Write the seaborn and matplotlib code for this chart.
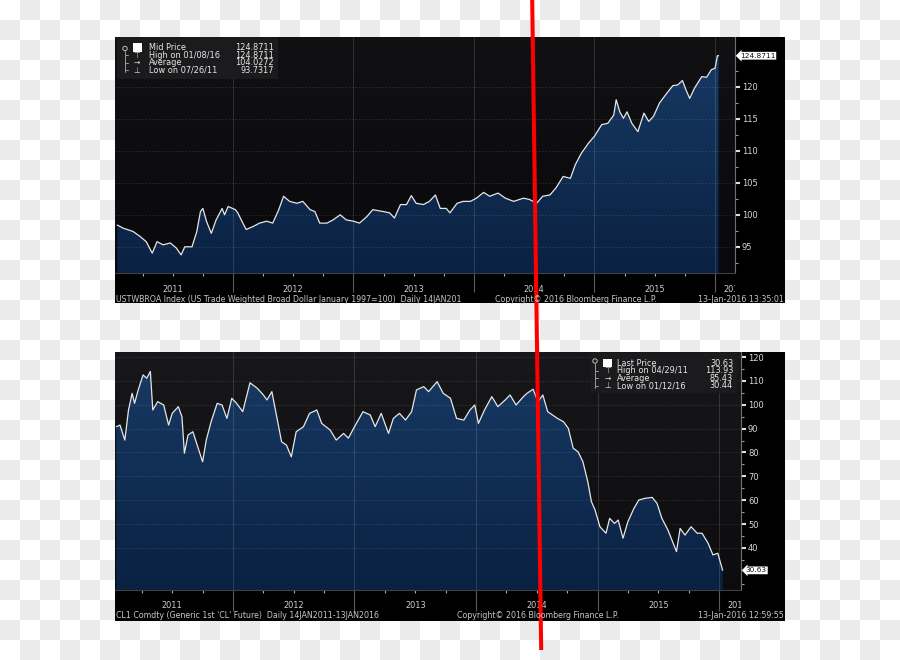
import numpy as np
import pandas as pd
import matplotlib
matplotlib.use('Agg')
import matplotlib.pyplot as plt
import seaborn as sns
from matplotlib.colors import ListedColormap, LinearSegmentedColormap
from matplotlib.patches import Rectangle, Circle
from matplotlib.transforms import Bbox, TransformedBbox, blended_transform_factory, offset_copy

# ---------------- data ----------------
usd_dates = [2011.04, 2011.09, 2011.17, 2011.23, 2011.28, 2011.33, 2011.37, 2011.42, 2011.48, 2011.53,
             2011.57, 2011.60, 2011.66, 2011.70, 2011.73, 2011.75, 2011.78, 2011.82, 2011.86, 2011.91,
             2011.93, 2011.96, 2012.02, 2012.04, 2012.09, 2012.11, 2012.17, 2012.22, 2012.28, 2012.33,
             2012.38, 2012.42, 2012.47, 2012.53, 2012.58, 2012.64, 2012.68, 2012.72, 2012.78, 2012.83,
             2012.89, 2012.94, 2013.00, 2013.05, 2013.11, 2013.16, 2013.25, 2013.30, 2013.34, 2013.39,
             2013.44, 2013.48, 2013.52, 2013.58, 2013.63, 2013.68, 2013.72, 2013.77, 2013.80, 2013.86,
             2013.91, 2013.97, 2014.02, 2014.08, 2014.13, 2014.20, 2014.26, 2014.33, 2014.41, 2014.46,
             2014.52, 2014.57, 2014.63, 2014.68, 2014.74, 2014.80, 2014.84, 2014.89, 2014.95, 2015.00,
             2015.06, 2015.11, 2015.16, 2015.18, 2015.21, 2015.24, 2015.27, 2015.31, 2015.36, 2015.41,
             2015.45, 2015.49, 2015.54, 2015.60, 2015.65, 2015.69, 2015.73, 2015.76, 2015.79, 2015.83,
             2015.89, 2015.93, 2015.97, 2016.00, 2016.02, 2016.03]
usd_values = [98.4, 97.9, 97.4, 96.6, 95.8, 94.0, 95.8, 95.3, 95.6, 94.8,
              93.73, 95.0, 95.0, 97.4, 100.5, 101.0, 99.0, 97.1, 99.2, 101.0,
              100.0, 101.3, 100.8, 100.3, 98.4, 97.7, 98.2, 98.7, 99.0, 98.7,
              100.8, 102.9, 102.1, 101.8, 102.1, 100.8, 100.5, 98.7, 98.7, 99.2,
              100.0, 99.2, 99.0, 98.7, 99.7, 100.8, 100.5, 100.3, 99.5, 101.6,
              101.6, 103.0, 101.8, 101.6, 102.1, 103.1, 101.0, 101.0, 100.3, 101.8,
              102.1, 102.1, 102.6, 103.5, 102.9, 103.4, 102.6, 102.1, 102.6, 102.4,
              101.8, 102.9, 103.1, 104.2, 106.0, 105.7, 107.8, 109.6, 111.2, 112.3,
              114.1, 114.3, 115.6, 118.0, 116.1, 115.1, 116.1, 114.3, 113.0, 115.9,
              114.6, 115.4, 117.5, 119.0, 120.2, 120.3, 121.0, 119.5, 118.2, 119.8,
              121.6, 121.5, 122.7, 122.9, 124.87, 124.87]

oil_dates = [2011.04, 2011.07, 2011.11, 2011.14, 2011.17, 2011.19, 2011.22, 2011.26, 2011.29, 2011.32,
             2011.34, 2011.38, 2011.43, 2011.47, 2011.50, 2011.55, 2011.58, 2011.60, 2011.63, 2011.67,
             2011.71, 2011.75, 2011.78, 2011.82, 2011.87, 2011.91, 2011.95, 2011.99, 2012.03, 2012.08,
             2012.14, 2012.20, 2012.25, 2012.28, 2012.32, 2012.36, 2012.40, 2012.44, 2012.48, 2012.52,
             2012.58, 2012.63, 2012.69, 2012.73, 2012.80, 2012.85, 2012.91, 2012.95, 2013.00, 2013.07,
             2013.13, 2013.17, 2013.22, 2013.28, 2013.32, 2013.37, 2013.42, 2013.47, 2013.51, 2013.57,
             2013.61, 2013.68, 2013.73, 2013.79, 2013.84, 2013.90, 2013.95, 2013.99, 2014.02, 2014.07,
             2014.13, 2014.18, 2014.24, 2014.28, 2014.33, 2014.39, 2014.42, 2014.47, 2014.51, 2014.55,
             2014.59, 2014.63, 2014.67, 2014.72, 2014.76, 2014.80, 2014.84, 2014.88, 2014.92, 2014.95,
             2014.98, 2015.02, 2015.07, 2015.10, 2015.14, 2015.17, 2015.21, 2015.25, 2015.30, 2015.34,
             2015.39, 2015.45, 2015.49, 2015.53, 2015.58, 2015.65, 2015.68, 2015.72, 2015.77, 2015.82,
             2015.86, 2015.91, 2015.95, 2015.99, 2016.03]
oil_values = [90.8, 91.5, 85.2, 97.8, 104.8, 100.6, 106.2, 112.5, 111.1, 113.93,
              97.8, 101.3, 99.9, 91.5, 96.4, 99.2, 95.0, 79.7, 87.3, 88.7,
              82.4, 76.1, 85.2, 92.9, 100.6, 99.9, 94.3, 102.7, 100.6, 97.1,
              109.2, 106.9, 104.1, 102.0, 105.5, 95.0, 84.5, 83.1, 78.2, 88.7,
              90.8, 96.4, 97.8, 92.2, 89.4, 85.2, 88.0, 86.0, 90.8, 97.1,
              95.7, 90.8, 96.4, 88.0, 94.3, 96.4, 93.6, 97.1, 106.2, 107.6,
              105.5, 109.7, 104.8, 102.7, 94.3, 93.6, 97.8, 99.9, 92.2, 97.8,
              103.4, 99.2, 102.0, 104.1, 99.9, 103.4, 104.8, 106.5, 101.3, 104.1,
              97.1, 95.7, 94.3, 92.9, 90.1, 81.8, 80.3, 76.1, 67.8, 59.4,
              55.9, 48.9, 46.2, 52.4, 50.3, 51.7, 44.1, 51.0, 56.6, 60.1,
              60.8, 61.2, 58.7, 52.4, 47.5, 38.5, 48.2, 45.4, 48.9, 46.2,
              46.2, 42.0, 37.1, 37.8, 30.63]

usd_yticks = [95, 100, 105, 110, 115, 120]
oil_yticks = [40, 50, 60, 70, 80, 90, 100, 110, 120]
year_labels = ['2011', '2012', '2013', '2014', '2015', '2016']

usd_legend_labels = ['Mid Price', 'High on 01/08/16', 'Average', 'Low on 07/26/11']
usd_legend_values = ['124.8711', '124.8711', '104.0272', '93.7317']
oil_legend_labels = ['Last Price', 'High on 04/29/11', 'Average', 'Low on 01/12/16']
oil_legend_values = ['30.63', '113.93', '85.43', '30.44']

usd_footer = ["USTWBROA Index (US Trade Weighted Broad Dollar January 1997=100)  Daily 14JAN201",
              "Copyright\u00a9 2016 Bloomberg Finance L.P.", "13-Jan-2016 13:35:01"]
oil_footer = ["CL1 Comdty (Generic 1st 'CL' Future)  Daily 14JAN2011-13JAN2016",
              "Copyright\u00a9 2016 Bloomberg Finance L.P.", "13-Jan-2016 12:59:55"]

# ---------------- style ----------------
sns.set_theme(style='dark')
plt.rcParams['font.family'] = ['DejaVu Sans']

W, H = 900, 660
fig = plt.figure(figsize=(W / 100, H / 100), dpi=100)
fig.patch.set_facecolor('white')

# checkerboard backdrop
bg = fig.add_axes([0, 0, 1, 1], zorder=-10)
chk = np.add.outer(np.arange(33), np.arange(45)) % 2
bg.imshow(chk, cmap=ListedColormap(['#ffffff', '#ebebeb']), extent=[0, W, H, 0],
          interpolation='nearest', aspect='auto')
bg.set_xlim(0, W); bg.set_ylim(H, 0); bg.axis('off')
bg.add_patch(Rectangle((115, 37), 670, 266, fc='black', ec='none'))
bg.add_patch(Rectangle((115, 352), 670, 269, fc='black', ec='none'))


def px_axes(x0, y0, x1, y1):
    return fig.add_axes([x0 / W, 1 - y1 / H, (x1 - x0) / W, (y1 - y0) / H])


def draw_panel(ax, dates, values, xlim, ylim, yticks, yminor, bg_top, bg_bot,
               sep_len, lab_off, last_label):
    x0, x1 = xlim
    y0, y1 = ylim
    grad = np.linspace(1, 0, 256).reshape(-1, 1)
    ax.imshow(grad, cmap=LinearSegmentedColormap.from_list('b', [bg_bot, bg_top]),
              extent=[x0, x1, y0, y1], aspect='auto', zorder=0, interpolation='bilinear')
    poly = ax.fill_between(dates, values, y0, color='none', lw=0, zorder=1)
    im = ax.imshow(grad, cmap=LinearSegmentedColormap.from_list('f', ['#0a2142', '#183b66']),
                   extent=[x0, x1, y0, y1], aspect='auto', zorder=1, interpolation='bilinear')
    im.set_clip_path(poly.get_paths()[0], transform=ax.transData)
    df = pd.DataFrame({'date': dates, 'value': values})
    sns.lineplot(data=df, x='date', y='value', ax=ax, color='#e6e6e6', lw=0.9,
                 estimator=None, legend=False, zorder=4)
    years = list(range(2012, 2017))
    for yv in yticks:
        ax.axhline(yv, color='white', alpha=0.13, lw=0.6, ls=(0, (2, 2)), zorder=3)
    for yr in years:
        ax.axvline(yr, color='white', alpha=0.16, lw=0.6, zorder=3)
    ax.set_xlim(x0, x1); ax.set_ylim(y0, y1)
    ax.set_xlabel(''); ax.set_ylabel('')
    ax.grid(False)
    ax.set_facecolor('#0c0c0e')
    for s in ['top', 'left']:
        ax.spines[s].set_visible(False)
    ax.spines['right'].set_color('#707070'); ax.spines['right'].set_linewidth(0.8)
    ax.spines['bottom'].set_color('#404040'); ax.spines['bottom'].set_linewidth(0.8)
    ax.yaxis.tick_right()
    ax.set_yticks(yticks)
    ax.set_yticklabels([str(t) for t in yticks])
    ax.set_yticks(yminor, minor=True)
    ax.tick_params(axis='y', which='major', direction='out', length=3.5, width=1.5,
                   color='#e0e0e0', labelcolor='#d8d8d8', labelsize=6, pad=1.5,
                   right=True, left=False)
    ax.tick_params(axis='y', which='minor', direction='out', length=1.8, width=0.8,
                   color='#9a9a9a', right=True, left=False)
    ax.set_xticks(years)
    ax.set_xticklabels([])
    quarters = [y + q for y in range(2011, 2016) for q in (0.25, 0.5, 0.75)] + [2016.25]
    ax.set_xticks([q for q in quarters if x0 < q < x1], minor=True)
    ax.tick_params(axis='x', which='major', direction='out', length=sep_len, width=0.8,
                   color='#5a5a5a', bottom=True)
    ax.tick_params(axis='x', which='minor', direction='out', length=2.2, width=0.8,
                   color='#b0b0b0', bottom=True)
    tr = offset_copy(ax.get_xaxis_transform(), fig=fig, y=-lab_off, units='dots')
    for yr, lab in zip(range(2011, 2016), year_labels[:-1]):
        ax.text(yr + 0.5, 0, lab, transform=tr, ha='center', va='center',
                fontsize=5.9, color='#d0d0d0', clip_on=False)
    t = ax.text(2016.07, 0, year_labels[-1], transform=tr, ha='left', va='center',
                fontsize=5.9, color='#d0d0d0')
    t.set_clip_path(None)
    t.set_clip_box(TransformedBbox(Bbox([[0, -1], [1, 1]]), ax.transAxes))
    t.set_clip_on(True)
    # last-price tag
    bt = blended_transform_factory(ax.transAxes, ax.transData)
    ax.annotate(last_label, xy=(1, values[-1]), xycoords=bt, xytext=(3.5, 0),
                textcoords='offset points', ha='left', va='center', fontsize=5.3,
                color='#111111', annotation_clip=False, zorder=6,
                bbox=dict(boxstyle='larrow,pad=0.12', fc='white', ec='none'))


ax1 = px_axes(115, 37, 735, 273)
draw_panel(ax1, usd_dates, usd_values, (2011.021, 2016.166), (90.9, 127.8),
           usd_yticks, [92.5 + 5 * i for i in range(7)], '#111114', '#09090b',
           14, 17, usd_legend_values[0])

ax2 = px_axes(115, 352, 741, 590)
draw_panel(ax2, oil_dates, oil_values, (2011.029, 2016.181), (22.4, 122.1),
           oil_yticks, [25 + 10 * i for i in range(10)], '#18181b', '#0c0c0e',
           15, 15, oil_legend_values[0])

# ---------------- overlay: legends, footers, red line ----------------
ov = fig.add_axes([0, 0, 1, 1], zorder=10)
ov.set_xlim(0, W); ov.set_ylim(H, 0); ov.axis('off')
ov.patch.set_alpha(0)


def legend_box(x0, y0, x1, y1, rows, labels, vals, text_x, val_x, sq_x, circ):
    ov.add_patch(Rectangle((x0, y0), x1 - x0, y1 - y0, fc='#1b1b1d', ec='none'))
    ov.add_patch(Rectangle((sq_x, rows[0] - 4.2), 9, 8.4, fc='white', ec='none'))
    cx, cy = circ
    ov.add_patch(Circle((cx, cy), 2.2, fc='none', ec='#bdbdbd', lw=0.7))
    ov.plot([cx, cx], [cy + 2.2, rows[-1] + 2], color='#9a9a9a', lw=0.7)
    for r in rows[1:]:
        ov.plot([cx, cx + 3], [r, r], color='#9a9a9a', lw=0.7)
    for r, g in zip(rows[1:], ['\u22a4', '\u2192', '\u22a5']):
        ov.text(sq_x + 4.5, r, g, ha='center', va='center', fontsize=5.5, color='#d5d5d5')
    for r, lab, v in zip(rows, labels, vals):
        ov.text(text_x, r, lab, ha='left', va='center', fontsize=5.9, color='#e8e8e8')
        ov.text(val_x, r, v, ha='right', va='center', fontsize=5.9, color='#e8e8e8')


legend_box(117, 37, 278, 79, [47.3, 55.0, 62.6, 70.2], usd_legend_labels,
           usd_legend_values, 149, 274, 132.5, (125, 48.5))
legend_box(591, 353, 737, 393, [363.0, 370.7, 378.3, 386.0], oil_legend_labels,
           oil_legend_values, 617, 733, 603, (595, 361))

fs = 5.7
fc = '#c8c8c8'
ov.text(116, 300, usd_footer[0], ha='left', va='center', fontsize=fs, color=fc)
ov.text(495, 300, usd_footer[1], ha='left', va='center', fontsize=fs, color=fc)
ov.text(784, 300, usd_footer[2], ha='right', va='center', fontsize=fs, color=fc)
ov.text(116, 616, oil_footer[0], ha='left', va='center', fontsize=fs, color=fc)
ov.text(457, 616, oil_footer[1], ha='left', va='center', fontsize=fs, color=fc)
ov.text(784, 616, oil_footer[2], ha='right', va='center', fontsize=fs, color=fc)

ov.plot([532.2, 541.2], [0, 650], color='#ff0000', lw=2.9, solid_capstyle='butt')

fig.savefig('out.png', dpi=100, facecolor='white')
